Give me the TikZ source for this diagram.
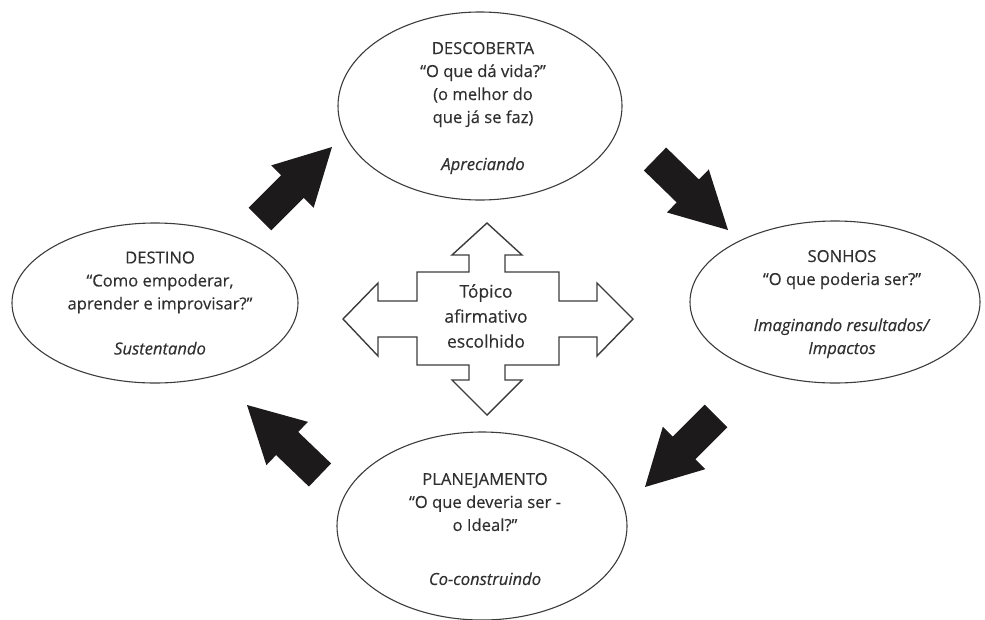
\documentclass[tikz,border=0pt]{standalone}
\usepackage{fontspec}
\setmainfont{Open Sans}[FakeBold=0.35]
\usetikzlibrary{calc,shapes.geometric}
\definecolor{ink}{HTML}{303030}
\definecolor{outline}{HTML}{3C3C3C}
\definecolor{blk}{HTML}{1C1A1A}
\newcommand\blkarrow[2]{%
  \coordinate (hb) at ($(#1)!0.45!(#2)$);
  \fill[blk] ($(#1)!16pt!90:(#2)$) -- ($(hb)!16pt!90:(#2)$) -- ($(hb)!30pt!90:(#2)$) -- (#2)
    -- ($(hb)!30pt!-90:(#2)$) -- ($(hb)!16pt!-90:(#2)$) -- ($(#1)!16pt!-90:(#2)$) -- cycle;}
\begin{document}
\begin{tikzpicture}[x=1pt,y=-1pt,
  bub/.style={draw=outline, line width=1.1pt, ellipse, inner sep=0pt},
  txt/.style={text=ink, align=center, font=\fontsize{16.6}{23}\selectfont, inner sep=0pt},
  ctr/.style={text=ink, align=center, font=\fontsize{17.5}{25}\selectfont, inner sep=0pt}]
\useasboundingbox (0,0) rectangle (985,619);
% ellipses
\node[bub, minimum width=284pt, minimum height=188pt] (desc) at (480,106) {};
\node[bub, minimum width=286pt, minimum height=160pt] (dest) at (155,303) {};
\node[bub, minimum width=290pt, minimum height=162pt] (sonh) at (835,302) {};
\node[bub, minimum width=290pt, minimum height=188pt] (plan) at (482,526) {};
% texts
\node[txt] (descT) at (483,108) {DESCOBERTA\\“O que dá vida?”\\(o melhor do\\que já se faz)\\[24pt]\textit{Apreciando}};
\node[txt] (destT) at (160,303) {DESTINO\\“Como empoderar,\\aprender e improvisar?”\\[22pt]\textit{Sustentando}};
\node[txt] (sonhT) at (842,304) {SONHOS\\“O que poderia ser?”\\[23pt]\textit{Imaginando resultados/}\\\textit{Impactos}};
\node[txt] (planT) at (485,529) {PLANEJAMENTO\\“O que deveria ser -\\o Ideal?”\\[31pt]\textit{Co-construindo}};
% central cross
\draw[outline, line width=1.4pt, line join=miter, fill=white]
  (487,223) -- (522,255) -- (505,255) -- (505,272) -- (559,272) -- (559,301) -- (597,301)
  -- (597,283) -- (633,319) -- (597,356) -- (597,337) -- (559,337) -- (559,365) -- (505,365)
  -- (505,380) -- (522,380) -- (487,415) -- (452,380) -- (469,380) -- (469,365) -- (417,365)
  -- (417,337) -- (378,337) -- (378,356) -- (343,319) -- (378,283) -- (378,301) -- (417,301)
  -- (417,272) -- (469,272) -- (469,255) -- (452,255) -- cycle;
\node[ctr] (topic) at (486,316) {Tópico\\afirmativo\\escolhido};
% black arrows
\coordinate (t1) at (260,219); \coordinate (p1) at (332,147);
\coordinate (t2) at (655,159); \coordinate (p2) at (728,230);
\coordinate (t3) at (716,416); \coordinate (p3) at (645,487);
\coordinate (t4) at (320,475); \coordinate (p4) at (247,405);
\blkarrow{t1}{p1}
\blkarrow{t2}{p2}
\blkarrow{t3}{p3}
\blkarrow{t4}{p4}
\end{tikzpicture}
\end{document}
